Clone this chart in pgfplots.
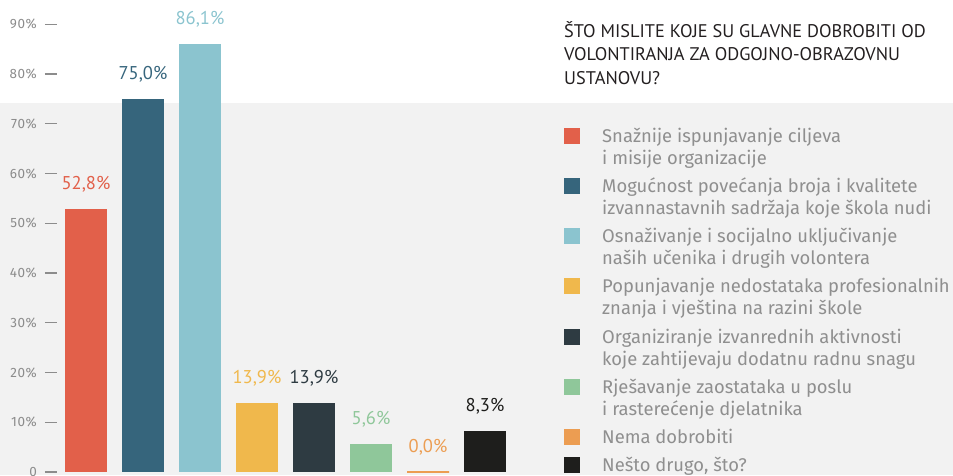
\documentclass[border=0pt]{standalone}
\usepackage{fontspec}
\setmainfont{Fira Sans}
\newfontfamily\ptsans{PT Sans}
\newfontfamily\tickfont[LetterSpace=4]{Fira Sans}
\usepackage{pgfplots}
\pgfplotsset{compat=1.18}
\definecolor{cA}{HTML}{E2604A}
\definecolor{cB}{HTML}{36657C}
\definecolor{cC}{HTML}{8BC4CF}
\definecolor{cD}{HTML}{F0B84C}
\definecolor{cE}{HTML}{2E3B42}
\definecolor{cF}{HTML}{8FC79A}
\definecolor{cG}{HTML}{EC9D52}
\definecolor{cH}{HTML}{1E1E1C}
\definecolor{bg}{HTML}{F2F2F2}
\definecolor{tickgray}{HTML}{8C8C8C}
\definecolor{leggray}{HTML}{8F8F8F}
\definecolor{titlecol}{HTML}{231F20}
\newcommand{\legfont}{\fontsize{18.4}{21.5}\selectfont}
\newcommand{\legentry}[4]{%
  \fill[#1] (564,{459-#2}) rectangle (580,{475-#2});
  \node[anchor=base west, inner sep=0pt, text=leggray, font=\legfont] at (602,{460.5-#2}) {#3};
  \node[anchor=base west, inner sep=0pt, text=leggray, font=\legfont] at (602,{439-#2}) {#4};
}
\begin{document}
\begin{tikzpicture}[x=1pt,y=1pt]
\useasboundingbox (0,0) rectangle (953,475);
\fill[bg] (0,0) rectangle (953,372);
\begin{axis}[
  at={(57pt,3pt)}, anchor=south west,
  scale only axis, width=456.5pt, height=447.7pt,
  xmin=-0.5088, xmax=7.5, ymin=0, ymax=90,
  axis x line*=bottom, axis y line*=left, axis line style={draw=none},
  xtick=\empty, ytick={0,10,...,90}, major tick length=0pt,
  ytick style={draw=none},
  yticklabel style={anchor=east, inner sep=0pt, font=\tickfont\fontsize{13.5}{13.5}\selectfont, text=tickgray},
  yticklabel={\ifdim\tick pt<1pt 0\else\pgfmathprintnumber[assume math mode=true]{\tick}\%\fi\hspace{8pt}{\color{tickgray}\rule[4pt]{12pt}{1.3pt}}},
  ybar, bar width=42pt, bar shift=0pt,
  clip=false,
  nodes near coords={\pgfmathprintnumber[fixed,zerofill,precision=1,use comma,assume math mode=true]{\pgfplotspointmeta}\%},
  every node near coord/.append style={anchor=base, yshift=19.5pt, font=\ptsans\fontsize{18.5}{18.5}\selectfont, inner sep=0pt},
]
\addplot[fill=cA, draw=none, every node near coord/.append style={text=cA}] coordinates {(0,52.8)};
\addplot[fill=cB, draw=none, every node near coord/.append style={text=cB}] coordinates {(1,75.0)};
\addplot[fill=cC, draw=none, every node near coord/.append style={text=cC}] coordinates {(2,86.1)};
\addplot[fill=cD, draw=none, every node near coord/.append style={text=cD}] coordinates {(3,13.9)};
\addplot[fill=cE, draw=none, every node near coord/.append style={text=cE}] coordinates {(4,13.9)};
\addplot[fill=cF, draw=none, every node near coord/.append style={text=cF}] coordinates {(5,5.6)};
\addplot[fill=cG, draw=cG, line width=1.7pt, every node near coord/.append style={text=cG}] coordinates {(6,0.0)};
\addplot[fill=cH, draw=none, every node near coord/.append style={text=cH}] coordinates {(7,8.3)};
\end{axis}
\begin{scope}[every node/.style={anchor=base west, inner sep=0pt, text=titlecol, font=\ptsans\fontsize{18.3}{18.3}\selectfont}]
\node at (564,437.3) {ŠTO MISLITE KOJE SU GLAVNE DOBROBITI OD};
\node at (564,414) {VOLONTIRANJA ZA ODGOJNO-OBRAZOVNU};
\node at (564,390.7) {USTANOVU?};
\end{scope}
\legentry{cA}{128}{Snažnije ispunjavanje ciljeva}{i misije organizacije}
\legentry{cB}{178}{Mogućnost povećanja broja i kvalitete}{izvannastavnih sadržaja koje škola nudi}
\legentry{cC}{228}{Osnaživanje i socijalno uključivanje}{naših učenika i drugih volontera}
\legentry{cD}{278}{Popunjavanje nedostataka profesionalnih}{znanja i vještina na razini škole}
\legentry{cE}{329}{Organiziranje izvanrednih aktivnosti}{koje zahtijevaju dodatnu radnu snagu}
\legentry{cF}{379}{Rješavanje zaostataka u poslu}{i rasterećenje djelatnika}
\legentry{cG}{429}{Nema dobrobiti}{}
\legentry{cH}{457}{Nešto drugo, što?}{}
\end{tikzpicture}
\end{document}
